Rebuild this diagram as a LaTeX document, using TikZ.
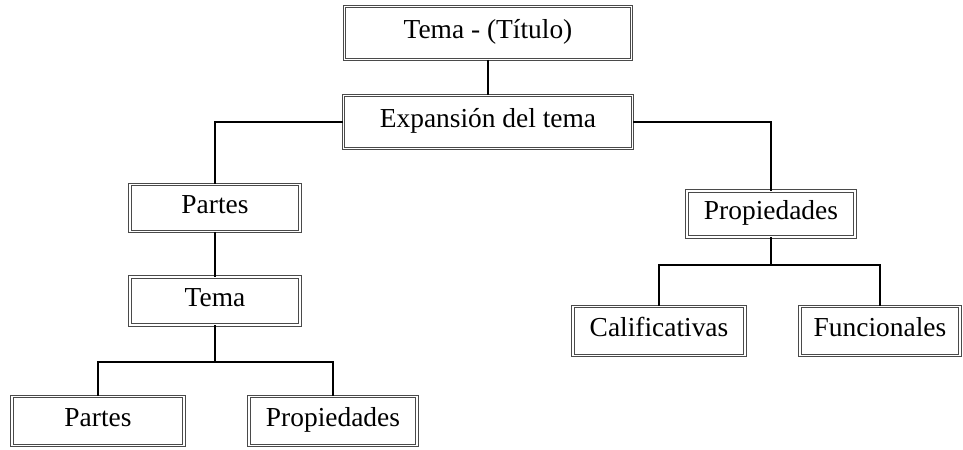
\documentclass[tikz,border=0pt]{standalone}
\usepackage{fontspec}
\setmainfont{Liberation Serif}
\usetikzlibrary{positioning}
\definecolor{cframe}{HTML}{4A4A4A}
\tikzset{
  every picture/.style={font=\fontsize{19.5}{23}\selectfont},
  tbox/.style={draw=cframe, double, line width=0.7pt, double distance=1.3pt, fill=white, align=center, inner sep=2pt, text height=0.82em, text depth=0em},
  link/.style={draw=black, line width=1.8pt},
}

\begin{document}
\begin{tikzpicture}[x=0.025cm, y=-0.025cm, sz/.style 2 args={minimum width=#1*0.025cm, minimum height=#2*0.025cm}]
  \useasboundingbox (0,0) rectangle (963,449);
  \node[tbox, sz={287}{53}] (title) at (488, 33) {Tema - (Título)};
  \node[tbox, sz={289}{53}] (expand) at (488, 122) {Expansión del tema};
  \node[tbox, sz={170}{47}] (partsA) at (215, 208) {Partes};
  \node[tbox, sz={170}{48}] (temaB) at (215, 301) {Tema};
  \node[tbox, sz={172}{49}] (partsC) at (98, 421) {Partes};
  \node[tbox, sz={168}{49}] (propC) at (333, 421) {Propiedades};
  \node[tbox, sz={168}{46}] (propA) at (771, 214) {Propiedades};
  \node[tbox, sz={172}{49}] (calif) at (659, 331) {Calificativas};
  \node[tbox, sz={160}{49}] (func) at (880, 331) {Funcionales};
  \coordinate (jA) at (215, 362); \coordinate (jB) at (771, 265);
  \draw[link] (title.south) -- (expand.north);
  \draw[link] (expand.west) -| (partsA.north); \draw[link] (expand.east) -| (propA.north);
  \draw[link] (partsA.south) -- (temaB.north); \draw[link] (temaB.south) -- (jA);
  \foreach \t in {partsC, propC} \draw[link] (jA) -| (\t.north);
  \draw[link] (propA.south) -- (jB);
  \foreach \t in {calif, func} \draw[link] (jB) -| (\t.north);
\end{tikzpicture}
\end{document}
